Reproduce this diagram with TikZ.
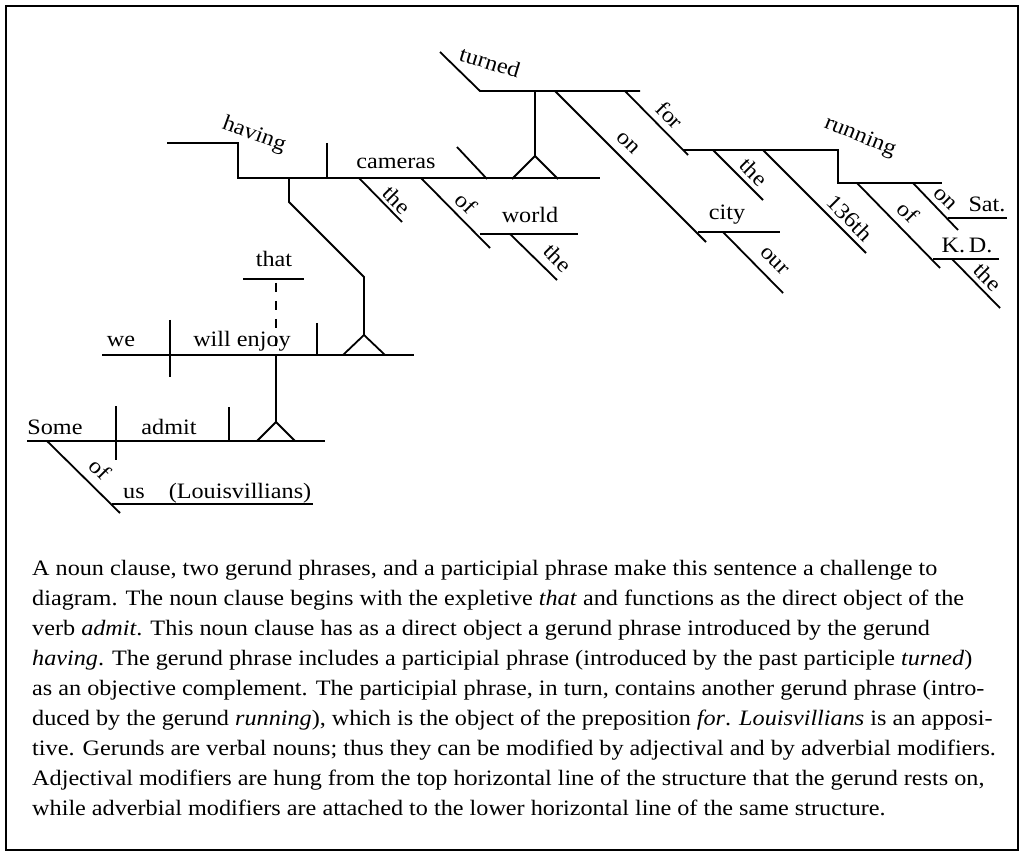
\documentclass[tikz,border=0pt]{standalone}
\usepackage{fontspec}
\setmainfont[FakeStretch=1.1]{Liberation Serif}
\begin{document}
\begin{tikzpicture}[x=1pt,y=-1pt,
  ln/.style={line width=1.8pt},
  wd/.style={font=\fontsize{22}{30}\selectfont, inner sep=0pt},
  hw/.style={wd, anchor=base},
  dg/.style={wd, anchor=center, rotate=-45},
  pl/.style={wd, anchor=base west}]
\useasboundingbox (0,0) rectangle (1025,858);
\draw[line width=2pt] (6,6) rectangle (1018,850);

% ---- main clause: Some admit ...
\coordinate (mL) at (27,441); \coordinate (mR) at (325,441);
\draw[ln] (mL) -- (mR);
\draw[ln] (116,406) -- (116,460);
\draw[ln] (229,407) -- (229,441);
\coordinate (mA) at (276,422);
\draw[ln] (257,441) -- (mA) -- (295,441);
\node[hw] (some) at (55,434) {Some};
\node[hw] (admit) at (169,434) {admit};
% of us (Louisvillians)
\draw[ln] (47,441) -- (120,513);
\draw[ln] (112,504) -- (313,504);
\node[dg] (of1) at (100,469) {of};
\node[hw] (us) at (134,498) {us};
\node[hw] (lou) at (240,498) {(Louisvillians)};

% ---- noun clause: that we will enjoy ...
\coordinate (nL) at (102,355); \coordinate (nR) at (414,355);
\coordinate (nS) at (276,355);
\draw[ln] (nL) -- (nR);
\draw[ln] (mA) -- (nS);
\draw[ln] (170,320) -- (170,377);
\draw[ln] (317,323) -- (317,355);
\coordinate (nA) at (364,335);
\draw[ln] (343,355) -- (nA) -- (385,355);
\draw[ln] (243,279) -- (304,279);
\draw[ln, dash pattern=on 9pt off 9pt] (276,283) -- (nS);
\node[hw] (we) at (121,347) {we};
\node[hw] (enjoy) at (242,347) {will enjoy};
\node[hw] (that) at (274,267) {that};

% ---- gerund phrase: having cameras ...
\draw[ln] (nA) -- (364,277) -- (289,202) -- (289,178);
\draw[ln] (167,143) -- (238,143) -- (238,178) -- (600,178);
\node[wd, rotate=-20] (having) at (254,135) {having};
\draw[ln] (327,143) -- (327,178);
\node[hw] (cameras) at (396,169) {cameras};
\draw[ln] (359,178) -- (402,222);
\node[dg] (the1) at (397,200) {the};
\draw[ln] (421,178) -- (490,248);
\node[dg] (of2) at (466,203) {of};
\draw[ln] (480,234) -- (578,234);
\node[hw] (world) at (530,223) {world};
\draw[ln] (510,234) -- (557,280);
\node[dg] (the2) at (558,258) {the};
% objective complement
\draw[ln] (457,147) -- (487,179);
\coordinate (tA) at (535,156);
\draw[ln] (512,179) -- (tA) -- (558,179);
\draw[ln] (tA) -- (535,91);

% ---- participial phrase: turned ...
\draw[ln] (440,52) -- (480,91) -- (640,91);
\node[wd, rotate=-17] (turned) at (490,62) {turned};
\draw[ln] (555,91) -- (706,242);
\node[dg] (on1) at (628,143) {on};
\draw[ln] (698,232) -- (780,232);
\node[hw] (city) at (727,220) {city};
\draw[ln] (723,232) -- (783,293);
\node[dg] (our) at (774,261) {our};
\draw[ln] (625,91) -- (688,155);
\node[dg] (for) at (670,115) {for};

% ---- gerund: running ...
\draw[ln] (683,150) -- (838,150) -- (838,183) -- (942,183);
\node[wd, rotate=-22] (running) at (860,137) {running};
\draw[ln] (713,150) -- (763,200);
\node[dg] (the3) at (754,172) {the};
\draw[ln] (763,150) -- (866,253);
\node[dg] (n136) at (850,218) {136th};
\draw[ln] (857,183) -- (940,268);
\node[dg] (of3) at (908,212) {of};
\draw[ln] (933,259) -- (999,259);
\node[hw] (kd) at (967,253) {K.\,D.};
\draw[ln] (952,259) -- (1000,308);
\node[dg] (the4) at (988,277) {the};
\draw[ln] (913,183) -- (958,230);
\node[dg] (on2) at (945,199) {on};
\draw[ln] (948,218) -- (1007,218);
\node[hw] (sat) at (987,212) {Sat.};

% ---- paragraph
\node[pl] (p1) at (32,575) {A noun clause, two gerund phrases, and a participial phrase make this sentence a challenge to};
\node[pl] (p2) at (32,605) {diagram. The noun clause begins with the expletive \textit{that} and functions as the direct object of the};
\node[pl] (p3) at (32,635) {verb \textit{admit}. This noun clause has as a direct object a gerund phrase introduced by the gerund};
\node[pl] (p4) at (32,665) {\textit{having}. The gerund phrase includes a participial phrase (introduced by the past participle \textit{turned})};
\node[pl] (p5) at (32,695) {as an objective complement. The participial phrase, in turn, contains another gerund phrase (intro-};
\node[pl] (p6) at (32,725) {duced by the gerund \textit{running}), which is the object of the preposition \textit{for}. \textit{Louisvillians} is an apposi-};
\node[pl] (p7) at (32,755) {tive. Gerunds are verbal nouns; thus they can be modified by adjectival and by adverbial modifiers.};
\node[pl] (p8) at (32,785) {Adjectival modifiers are hung from the top horizontal line of the structure that the gerund rests on,};
\node[pl] (p9) at (32,815) {while adverbial modifiers are attached to the lower horizontal line of the same structure.};
\end{tikzpicture}
\end{document}
